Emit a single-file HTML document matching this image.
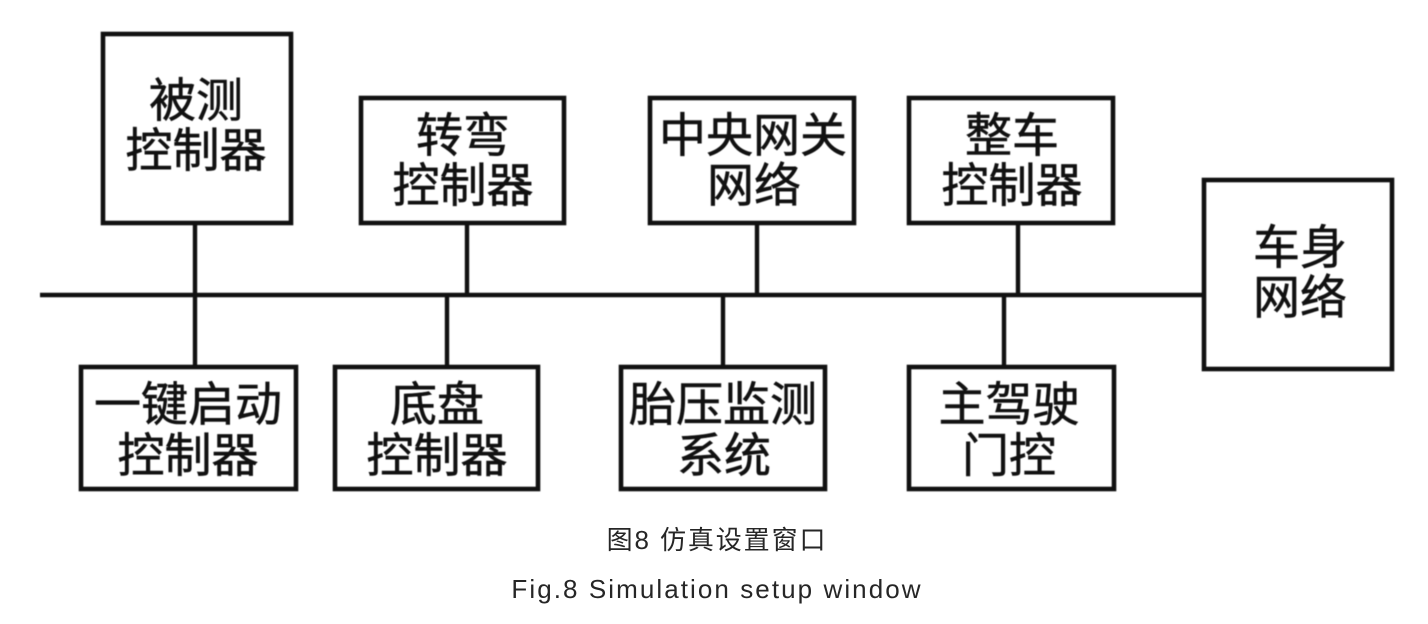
<!DOCTYPE html>
<html><head><meta charset="utf-8">
<style>
html,body{margin:0;padding:0;background:#fff}
svg{display:block}
.b{fill:#fff;stroke:#111;stroke-width:4.6}
.l{stroke:#111;stroke-width:4.4}
.t{font-family:"Liberation Sans","Noto Sans CJK SC",sans-serif;font-size:47px;fill:#111;stroke:#111;stroke-width:0.6px;text-anchor:middle}
.c{font-family:"Liberation Sans","Noto Sans CJK SC",sans-serif;font-size:26px;fill:#262626;text-anchor:middle;letter-spacing:1.9px}
.e{letter-spacing:2.07px}
.d{filter:blur(0.4px)}
</style></head><body>
<svg width="1428" height="624" viewBox="0 0 1428 624" xmlns="http://www.w3.org/2000/svg">
<rect width="1428" height="624" fill="#fff"/>
<g class="d">
<line class="l" x1="40" y1="295" x2="1204" y2="295"/>
<line class="l" x1="195" y1="223" x2="195" y2="367"/>
<line class="l" x1="467" y1="223" x2="467" y2="295"/>
<line class="l" x1="447" y1="295" x2="447" y2="367"/>
<line class="l" x1="757" y1="223" x2="757" y2="295"/>
<line class="l" x1="723" y1="295" x2="723" y2="367"/>
<line class="l" x1="1018" y1="223" x2="1018" y2="295"/>
<line class="l" x1="1004" y1="295" x2="1004" y2="367"/>
<rect class="b" x="103" y="34" width="188" height="189"/>
<rect class="b" x="361" y="98" width="203" height="125"/>
<rect class="b" x="650" y="98" width="204" height="125"/>
<rect class="b" x="909" y="98" width="204" height="125"/>
<rect class="b" x="1204" y="180" width="188" height="189"/>
<rect class="b" x="81" y="367" width="215" height="122"/>
<rect class="b" x="335" y="367" width="203" height="122"/>
<rect class="b" x="621" y="367" width="204" height="122"/>
<rect class="b" x="909" y="367" width="205" height="122"/>
<text class="t" x="196" y="117">被测</text>
<text class="t" x="196" y="167">控制器</text>
<text class="t" x="463" y="152">转弯</text>
<text class="t" x="463" y="202">控制器</text>
<text class="t" x="753" y="152">中央网关</text>
<text class="t" x="754" y="202">网络</text>
<text class="t" x="1012" y="152">整车</text>
<text class="t" x="1012" y="202">控制器</text>
<text class="t" x="1300" y="264">车身</text>
<text class="t" x="1300" y="314">网络</text>
<text class="t" x="188" y="421">一键启动</text>
<text class="t" x="188" y="472">控制器</text>
<text class="t" x="437" y="421">底盘</text>
<text class="t" x="437" y="472">控制器</text>
<text class="t" x="723" y="421">胎压监测</text>
<text class="t" x="724" y="472">系统</text>
<text class="t" x="1009" y="421">主驾驶</text>
<text class="t" x="1009" y="472">门控</text>
</g>
<text class="c" x="717" y="549">图8 仿真设置窗口</text>
<text class="c e" x="717" y="598">Fig.8 Simulation setup window</text>
</svg>
</body></html>
